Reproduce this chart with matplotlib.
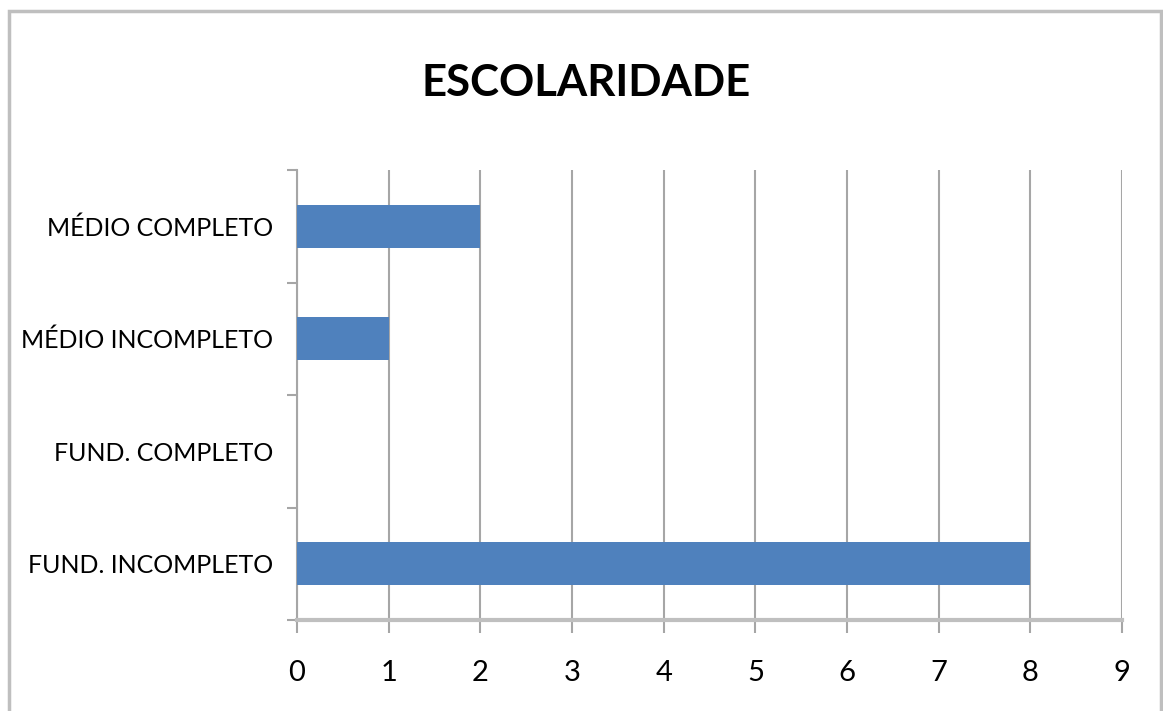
import matplotlib
matplotlib.use("Agg")
import matplotlib.pyplot as plt
from matplotlib.patches import Rectangle
import numpy as np

# Data
categories = ["FUND. INCOMPLETO", "FUND. COMPLETO", "MÉDIO INCOMPLETO", "MÉDIO COMPLETO"]
values = [8, 0, 1, 2]
x_ticks = list(range(0, 10))

plt.rcParams['font.family'] = ['Lato', 'DejaVu Sans']

bar_color = "#4F81BD"
grid_color = "#A6A6A6"

fig = plt.figure(figsize=(11.63, 7.11), dpi=100)
ax = fig.add_axes([297 / 1163, 1 - 620 / 711, (1122 - 297) / 1163, (620 - 170) / 711])

ypos = np.arange(len(categories))
ax.barh(ypos, values, height=0.38, color=bar_color, zorder=3)

ax.set_xlim(0, 9)
ax.set_ylim(-0.5, len(categories) - 0.5)
ax.set_xticks(x_ticks)
ax.set_xticklabels([str(t) for t in x_ticks], fontsize=21)
ax.set_yticks(ypos)
ax.set_yticklabels(categories, fontsize=18)
ax.set_yticks(np.arange(-0.5, len(categories)), minor=True)

ax.grid(axis="x", color=grid_color, linewidth=1.5, zorder=0)
ax.tick_params(axis="y", which="major", length=0, pad=17)
ax.tick_params(axis="y", which="minor", length=7, width=1.5, color=grid_color)
ax.tick_params(axis="x", length=9, width=1.5, color=grid_color, pad=20)

for side in ["top", "right"]:
    ax.spines[side].set_visible(False)
ax.spines["left"].set_color(grid_color)
ax.spines["left"].set_linewidth(1.5)
ax.spines["bottom"].set_color("#BFBFBF")
ax.spines["bottom"].set_linewidth(3)

fig.text(0.504, 0.883, "ESCOLARIDADE", ha="center", va="center",
         fontsize=31.5, fontweight="bold")

# chart frame (bottom edge cut off in the original)
fig.patches.append(Rectangle((9 / 1163, -0.05), (1161 - 9) / 1163, 1.05 - 11 / 711,
                             transform=fig.transFigure, fill=False,
                             edgecolor="#BFBFBF", linewidth=2.5))

fig.savefig("out.png", dpi=100)
